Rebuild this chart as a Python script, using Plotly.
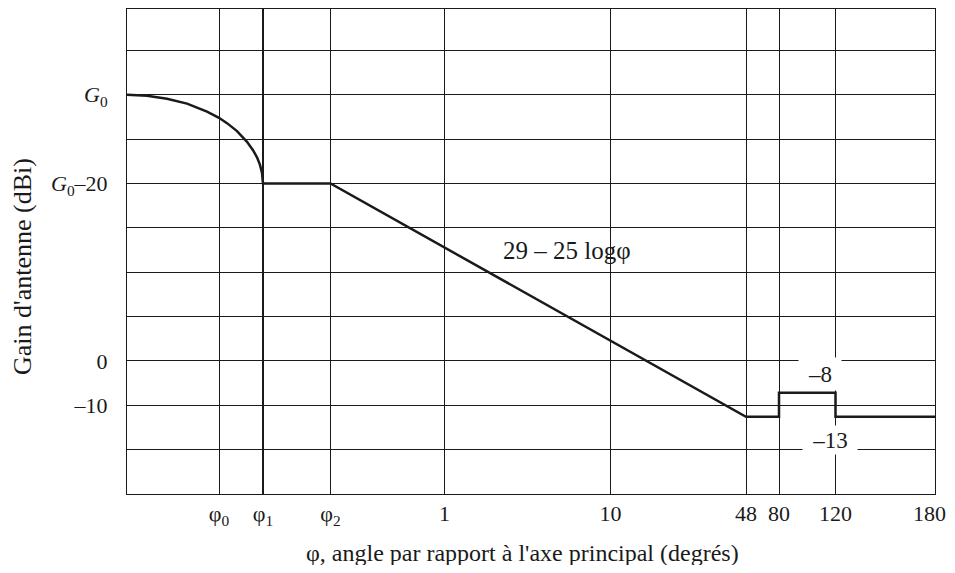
import plotly.graph_objects as go

# Schematic x-axis: tick labels and their positions along the (non-uniform) axis
x_tick_labels = ["φ<sub>0</sub>", "φ<sub>1</sub>", "φ<sub>2</sub>", "1", "10", "48", "80", "120", "180\u00a0\u00a0"]
x_tick_pos = [92, 136, 203.5, 317.5, 483.5, 619, 652, 708.5, 808]

# Y-axis gridlines (dB) and labels
y_grid_vals = [-30, -20, -10, 0, 10, 20, 30, 40, 50, 60, 70, 80]
y_grid_text = ["", "", "–10", "0", "", "", "", "<i>G</i><sub>0</sub>–20", "", "<i>G</i><sub>0</sub>", "", ""]

# Main lobe curve: position, gain
lobe_pos = [0, 20, 40, 60, 80, 92, 100, 110, 120, 126, 130, 133, 135, 136]
lobe_gain = [60, 59.8, 59.1, 58.0, 56.2, 54.8, 53.6, 51.8, 49.4, 47.5, 45.9, 44.2, 42.4, 40]

# Side-lobe envelope: plateau, 29-25logφ slope, -13 / -8 / -13 steps
env_pos = [136, 203.5, 619, 652, 652, 708.5, 708.5, 808]
env_gain = [40, 40, -12.6, -12.6, -7.2, -7.2, -12.6, -12.6]

FONT = "Liberation Serif, Times New Roman, serif"
INK = "#1a1a1a"

fig = go.Figure()
fig.add_trace(go.Scatter(x=lobe_pos + env_pos, y=lobe_gain + env_gain, mode="lines",
                         line=dict(color=INK, width=2.5), hoverinfo="skip", showlegend=False))

fig.add_shape(type="line", xref="x", yref="paper", x0=x_tick_pos[1], x1=x_tick_pos[1],
              y0=0, y1=1, line=dict(color=INK, width=2), layer="above")

fig.add_annotation(x=440, y=25, xref="x", yref="y", text="29 – 25 logφ", showarrow=False,
                   font=dict(family=FONT, size=25, color=INK))
fig.add_annotation(x=693, y=-2.9, xref="x", yref="y", text="–8", showarrow=False,
                   font=dict(family=FONT, size=23, color=INK), bgcolor="white",
                   width=40, height=30)
fig.add_annotation(x=702.5, y=-17.8, xref="x", yref="y", text="–13", showarrow=False,
                   font=dict(family=FONT, size=23, color=INK), bgcolor="white",
                   width=52, height=26)

fig.add_annotation(x=0.49, y=-0.1216, xref="paper", yref="paper",
                   xanchor="center", yanchor="middle",
                   text="φ, angle par rapport à l'axe principal (degrés)", showarrow=False,
                   font=dict(family=FONT, size=24, color=INK))
fig.add_annotation(x=-0.130, y=0.470, xref="paper", yref="paper",
                   xanchor="center", yanchor="middle",
                   text="Gain d'antenne (dBi)", showarrow=False, textangle=-90,
                   font=dict(family=FONT, size=26, color=INK))

fig.update_xaxes(range=[0, 808], tickvals=x_tick_pos, ticktext=x_tick_labels,
                 showgrid=True, gridcolor=INK, gridwidth=1, zeroline=False,
                 showline=True, linecolor=INK, linewidth=1, mirror=True,
                 ticks="", ticklabelstandoff=0, ticklabeloverflow="allow",
                 automargin=False,
                 tickfont=dict(family=FONT, size=22, color=INK))
fig.update_yaxes(range=[-30, 79.33], tickvals=y_grid_vals, ticktext=y_grid_text,
                 showgrid=True, gridcolor=INK, gridwidth=1, zeroline=False,
                 showline=True, linecolor=INK, linewidth=1, mirror=True,
                 ticks="", ticklabelstandoff=14, automargin=False,
                 tickfont=dict(family=FONT, size=22, color=INK))

# The page adds an 8 px body margin; size the figure so no scrollbar appears and
# the plot area lands where the reference has it
fig.update_layout(width=939, height=557, margin=dict(l=119, r=12, t=1, b=71),
                  plot_bgcolor="white", paper_bgcolor="white", showlegend=False)

fig.write_html("out.html")
